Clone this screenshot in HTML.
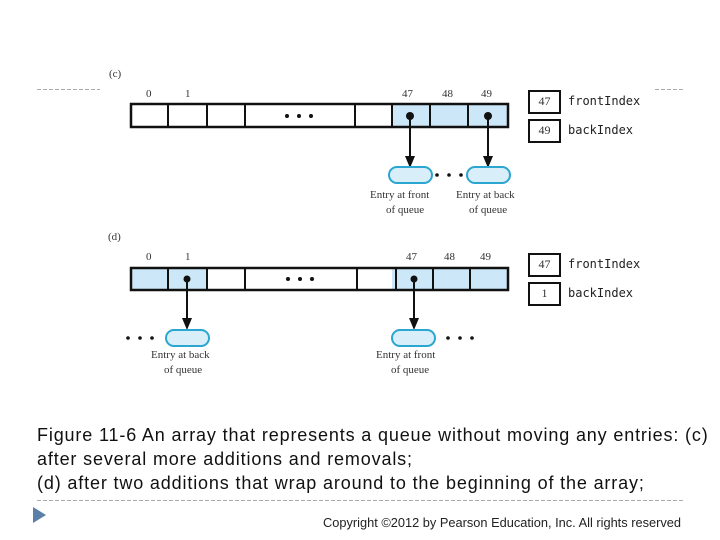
<!DOCTYPE html><html><head><style>
body{margin:0;width:720px;height:540px;background:#fff;position:relative;overflow:hidden;font-family:"Liberation Serif",serif}
.t{position:absolute;font-size:11px;color:#333;white-space:nowrap}
.m{font-family:"DejaVu Sans Mono","Liberation Mono",monospace;font-size:12px;color:#222}
.b{position:absolute;width:31px;text-align:center;font-size:12px;color:#333}
.cap{position:absolute;left:37px;font-family:"Liberation Sans",sans-serif;font-size:18px;letter-spacing:0.85px;color:#111;line-height:24px;white-space:nowrap}
</style></head><body>
<svg width="720" height="540" style="position:absolute;left:0;top:0">
<g stroke="#aaa" stroke-dasharray="4,2" stroke-width="1">
<line x1="37" y1="89.5" x2="100" y2="89.5"/><line x1="655" y1="89.5" x2="685" y2="89.5"/>
<line x1="37" y1="500.5" x2="685" y2="500.5"/></g>
<polygon points="33,507 33,523 46,515" fill="#5a7fa8"/>
<rect x="392" y="104" width="38" height="23" fill="#cce8f8"/><rect x="430" y="104" width="38" height="23" fill="#cce8f8"/><rect x="468" y="104" width="40" height="23" fill="#cce8f8"/>
<rect x="131" y="104" width="377" height="23" fill="none" stroke="#111" stroke-width="2.5"/>
<g stroke="#111" stroke-width="2"><line x1="168" y1="104" x2="168" y2="127"/><line x1="207" y1="104" x2="207" y2="127"/><line x1="245" y1="104" x2="245" y2="127"/><line x1="355" y1="104" x2="355" y2="127"/><line x1="392" y1="104" x2="392" y2="127"/><line x1="430" y1="104" x2="430" y2="127"/><line x1="468" y1="104" x2="468" y2="127"/></g>
<g fill="#111"><circle cx="287" cy="116" r="2"/><circle cx="299" cy="116" r="2"/><circle cx="311" cy="116" r="2"/>
<circle cx="410" cy="116" r="4"/><circle cx="488" cy="116" r="4"/>
<polygon points="405,156 415,156 410,168"/><polygon points="483,156 493,156 488,168"/>
<circle cx="437" cy="175" r="1.8"/><circle cx="449" cy="175" r="1.8"/><circle cx="461" cy="175" r="1.8"/></g>
<g stroke="#111" stroke-width="2"><line x1="410" y1="116" x2="410" y2="158"/><line x1="488" y1="116" x2="488" y2="158"/></g>
<rect x="389" y="167" width="43" height="16" rx="8" fill="#d8eef8" stroke="#2aa6d0" stroke-width="2"/>
<rect x="467" y="167" width="43" height="16" rx="8" fill="#d8eef8" stroke="#2aa6d0" stroke-width="2"/>
<rect x="529" y="91" width="31" height="22" fill="#fff" stroke="#111" stroke-width="2"/>
<rect x="529" y="120" width="31" height="22" fill="#fff" stroke="#111" stroke-width="2"/>
<rect x="131" y="268" width="37" height="22" fill="#cce8f8"/><rect x="168" y="268" width="39" height="22" fill="#cce8f8"/>
<rect x="392" y="268" width="38" height="22" fill="#cce8f8"/><rect x="430" y="268" width="38" height="22" fill="#cce8f8"/><rect x="468" y="268" width="40" height="22" fill="#cce8f8"/>
<rect x="131" y="268" width="377" height="22" fill="none" stroke="#111" stroke-width="2.5"/>
<g stroke="#111" stroke-width="2"><line x1="168" y1="268" x2="168" y2="290"/><line x1="207" y1="268" x2="207" y2="290"/><line x1="245" y1="268" x2="245" y2="290"/><line x1="357" y1="268" x2="357" y2="290"/><line x1="396" y1="268" x2="396" y2="290"/><line x1="433" y1="268" x2="433" y2="290"/><line x1="470" y1="268" x2="470" y2="290"/>
<line x1="187" y1="279" x2="187" y2="320"/><line x1="414" y1="279" x2="414" y2="320"/></g>
<g fill="#111"><circle cx="288" cy="279" r="2"/><circle cx="300" cy="279" r="2"/><circle cx="312" cy="279" r="2"/>
<circle cx="187" cy="279" r="3.5"/><circle cx="414" cy="279" r="3.5"/>
<polygon points="182,318 192,318 187,330"/><polygon points="409,318 419,318 414,330"/>
<circle cx="128" cy="338" r="1.8"/><circle cx="140" cy="338" r="1.8"/><circle cx="152" cy="338" r="1.8"/>
<circle cx="448" cy="338" r="1.8"/><circle cx="460" cy="338" r="1.8"/><circle cx="472" cy="338" r="1.8"/></g>
<rect x="166" y="330" width="43" height="16" rx="8" fill="#d8eef8" stroke="#2aa6d0" stroke-width="2"/>
<rect x="392" y="330" width="43" height="16" rx="8" fill="#d8eef8" stroke="#2aa6d0" stroke-width="2"/>
<rect x="529" y="254" width="31" height="22" fill="#fff" stroke="#111" stroke-width="2"/>
<rect x="529" y="283" width="31" height="22" fill="#fff" stroke="#111" stroke-width="2"/>
</svg>
<div class="t" style="left:109px;top:68px">(c)</div>
<div class="t" style="left:146px;top:88px">0</div><div class="t" style="left:185px;top:88px">1</div>
<div class="t" style="left:402px;top:88px">47</div><div class="t" style="left:442px;top:88px">48</div><div class="t" style="left:481px;top:88px">49</div>
<div class="b" style="left:529px;top:94px">47</div><div class="b" style="left:529px;top:123px">49</div>
<div class="t m" style="left:568px;top:94px">frontIndex</div><div class="t m" style="left:568px;top:123px">backIndex</div>
<div class="t" style="left:370px;top:189px">Entry at front</div><div class="t" style="left:386px;top:204px">of queue</div>
<div class="t" style="left:456px;top:189px">Entry at back</div><div class="t" style="left:469px;top:204px">of queue</div>
<div class="t" style="left:108px;top:231px">(d)</div>
<div class="t" style="left:146px;top:251px">0</div><div class="t" style="left:185px;top:251px">1</div>
<div class="t" style="left:406px;top:251px">47</div><div class="t" style="left:444px;top:251px">48</div><div class="t" style="left:480px;top:251px">49</div>
<div class="b" style="left:529px;top:257px">47</div><div class="b" style="left:529px;top:286px">1</div>
<div class="t m" style="left:568px;top:257px">frontIndex</div><div class="t m" style="left:568px;top:286px">backIndex</div>
<div class="t" style="left:151px;top:349px">Entry at back</div><div class="t" style="left:164px;top:364px">of queue</div>
<div class="t" style="left:376px;top:349px">Entry at front</div><div class="t" style="left:391px;top:364px">of queue</div>
<div class="cap" style="top:423px">Figure 11-6 An array that represents a queue without moving any entries: (c)<br>after several more additions and removals;<br>(d) after two additions that wrap around to the beginning of the array;</div>
<div style="position:absolute;left:323px;top:515px;font-family:'Liberation Sans',sans-serif;font-size:12.8px;color:#222;white-space:nowrap">Copyright ©2012 by Pearson Education, Inc. All rights reserved</div>
</body></html>
